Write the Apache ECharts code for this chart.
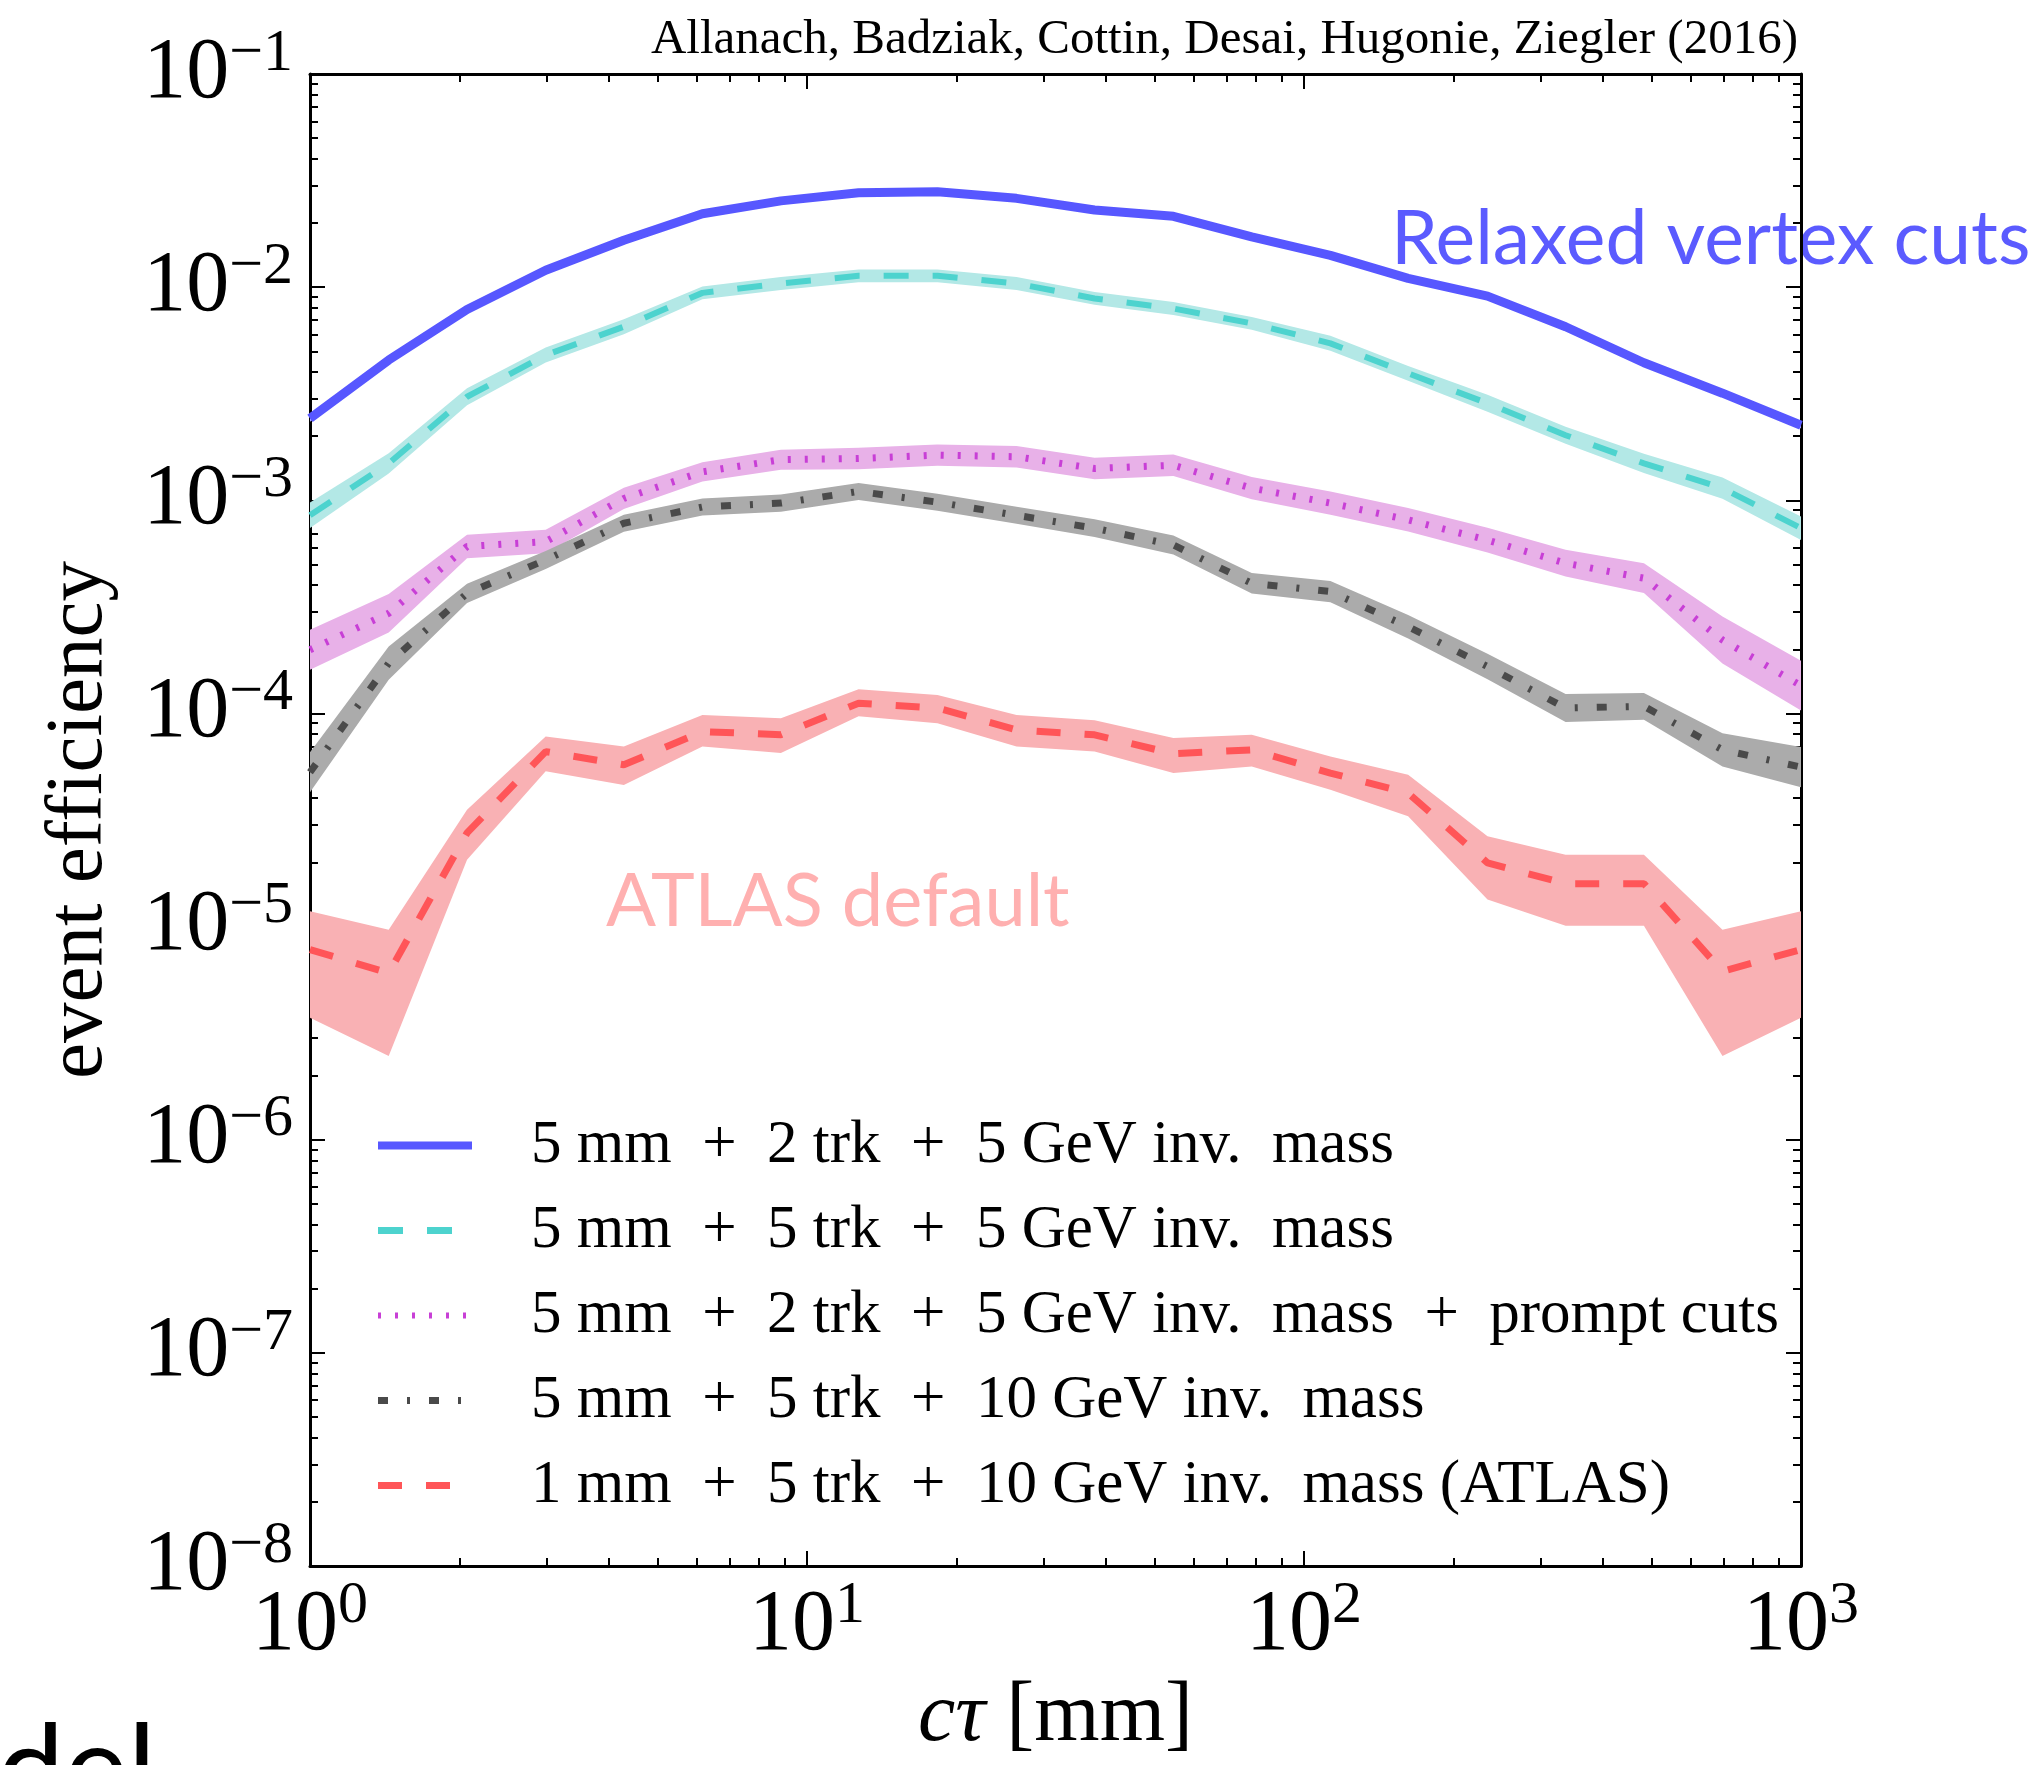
<!DOCTYPE html>
<html>
<head>
<meta charset="utf-8">
<script src="https://cdn.jsdelivr.net/npm/echarts@6/dist/echarts.min.js"></script>
<style>html,body{margin:0;padding:0;background:#fff}#c{width:2039px;height:1765px}</style>
</head>
<body>
<div id="c"></div>
<script>
// ---------------- data ----------------
const ctau = [1, 1.44, 2.07, 2.98, 4.28, 6.16, 8.86, 12.7, 18.3, 26.4, 37.9, 54.6, 78.5, 113, 162, 234, 336, 483, 695, 1000];

const eff2trk5GeV = [2.42e-3, 4.55e-3, 7.85e-3, 0.0120, 0.0166, 0.0221, 0.0254, 0.0277, 0.0280, 0.0261, 0.0230, 0.0215, 0.0172, 0.0141, 0.0110, 0.00908, 0.00652, 0.00442, 0.00318, 0.00225];
const eff5trk5GeV = [8.5e-4, 1.49e-3, 3.06e-3, 4.80e-3, 6.52e-3, 9.4e-3, 0.0104, 0.0113, 0.0113, 0.0104, 8.85e-3, 7.94e-3, 6.76e-3, 5.45e-3, 3.94e-3, 2.85e-3, 2.02e-3, 1.49e-3, 1.14e-3, 7.4e-4];
const eff2trkPrompt = [1.99e-4, 2.95e-4, 6.07e-4, 6.4e-4, 1.02e-3, 1.36e-3, 1.55e-3, 1.57e-3, 1.63e-3, 1.60e-3, 1.41e-3, 1.46e-3, 1.14e-3, 9.7e-4, 8.1e-4, 6.5e-4, 5.07e-4, 4.31e-4, 2.21e-4, 1.35e-4];
const eff5trk10GeV = [5.3e-5, 1.72e-4, 3.66e-4, 5.25e-4, 7.8e-4, 9.3e-4, 9.7e-4, 1.10e-3, 9.8e-4, 8.5e-4, 7.4e-4, 6.17e-4, 4.08e-4, 3.73e-4, 2.55e-4, 1.66e-4, 1.06e-4, 1.08e-4, 6.75e-5, 5.6e-5];
const effAtlas = [7.8e-6, 6.05e-6, 2.75e-5, 6.62e-5, 5.74e-5, 8.22e-5, 7.94e-5, 1.117e-4, 1.06e-4, 8.37e-5, 7.94e-5, 6.47e-5, 6.75e-5, 5.25e-5, 4.23e-5, 1.99e-5, 1.59e-5, 1.59e-5, 6.17e-6, 7.8e-6];
const effAtlasHi = [1.18e-5, 9.66e-6, 3.53e-5, 7.8e-5, 7.0e-5, 9.84e-5, 9.5e-5, 1.30e-4, 1.22e-4, 9.84e-5, 9.3e-5, 7.66e-5, 7.94e-5, 6.28e-5, 5.15e-5, 2.65e-5, 2.17e-5, 2.17e-5, 9.66e-6, 1.18e-5];
const effAtlasLo = [3.73e-6, 2.47e-6, 2.06e-5, 5.35e-5, 4.62e-5, 7.0e-5, 6.52e-5, 9.7e-5, 9.0e-5, 7.0e-5, 6.62e-5, 5.25e-5, 5.64e-5, 4.38e-5, 3.29e-5, 1.34e-5, 1.01e-5, 1.01e-5, 2.47e-6, 3.73e-6];

// band half-widths (in decades)
const band2trk5GeV = [0.015, 0.015, 0.015, 0.015, 0.015, 0.015, 0.015, 0.015, 0.015, 0.015, 0.015, 0.015, 0.015, 0.015, 0.015, 0.015, 0.015, 0.015, 0.015, 0.015];
const band5trk5GeV = [0.06, 0.047, 0.04, 0.035, 0.035, 0.03, 0.03, 0.03, 0.03, 0.03, 0.03, 0.03, 0.03, 0.035, 0.035, 0.04, 0.04, 0.045, 0.05, 0.055];
const band2trkPrompt = [0.094, 0.09, 0.055, 0.055, 0.05, 0.045, 0.047, 0.05, 0.05, 0.05, 0.05, 0.05, 0.052, 0.055, 0.055, 0.058, 0.063, 0.07, 0.11, 0.117];
const band5trk10GeV = [0.094, 0.078, 0.045, 0.042, 0.04, 0.04, 0.04, 0.04, 0.04, 0.04, 0.042, 0.045, 0.048, 0.05, 0.055, 0.06, 0.066, 0.063, 0.078, 0.094];

const seriesNames = [
  '5 mm + 2 trk + 5 GeV inv. mass',
  '5 mm + 5 trk + 5 GeV inv. mass',
  '5 mm + 2 trk + 5 GeV inv. mass + prompt cuts',
  '5 mm + 5 trk + 10 GeV inv. mass',
  '1 mm + 5 trk + 10 GeV inv. mass (ATLAS)'
];

const xMajorTicks = [1, 10, 100, 1000];
const yMajorTicks = [1e-8, 1e-7, 1e-6, 1e-5, 1e-4, 1e-3, 1e-2, 1e-1];

const titleText = 'Allanach, Badziak, Cottin, Desai, Hugonie, Ziegler (2016)';
const xTitle = 'cτ';
const yTitle = 'event efficiency';

// ---------------- helpers ----------------
const xMinorTicks = [];
[1, 10, 100].forEach(d => { for (let k = 2; k <= 9; k++) xMinorTicks.push(+(k * d).toPrecision(6)); });
const yMinorTicks = [];
[1e-8, 1e-7, 1e-6, 1e-5, 1e-4, 1e-3, 1e-2].forEach(d => { for (let k = 2; k <= 9; k++) yMinorTicks.push(+(k * d).toPrecision(6)); });

const SERIF = '"Liberation Serif", "DejaVu Serif", serif';
const SANS = 'Lato, "Open Sans", sans-serif';

function powLabel(v) {
  const e = Math.round(Math.log10(v));
  return '{b|10}{s|' + (e < 0 ? '\u2212' + (-e) : String(e)) + '}';
}
const labelRich = {
  b: { fontFamily: SERIF, fontSize: 86, lineHeight: 100, color: '#000' },
  s: { fontFamily: SERIF, fontSize: 60, lineHeight: 60, verticalAlign: 'top', color: '#000' }
};

function bandFrom(vals, w, sign) { return vals.map((v, i) => v * Math.pow(10, sign * w[i])); }

function bandSeries(lo, hi, color) {
  return {
    type: 'custom',
    xAxisIndex: 0, yAxisIndex: 0,
    silent: true,
    data: ctau.map((x, i) => [x, lo[i], hi[i]]),
    encode: { x: 0, y: [1, 2] },
    renderItem: function (params, api) {
      if (params.dataIndex !== 0) return null;
      const pts = [];
      for (let i = 0; i < ctau.length; i++) pts.push(api.coord([ctau[i], hi[i]]));
      for (let i = ctau.length - 1; i >= 0; i--) pts.push(api.coord([ctau[i], lo[i]]));
      return { type: 'polygon', shape: { points: pts }, style: { fill: color, stroke: null } };
    }
  };
}
function lineSeries(name, vals, color, width, type) {
  return {
    type: 'line', name: name, xAxisIndex: 0, yAxisIndex: 0,
    data: ctau.map((x, i) => [x, vals[i]]),
    symbol: 'none', showSymbol: false, silent: true,
    lineStyle: { color: color, width: width, type: type, cap: 'butt' },
    itemStyle: { color: color }
  };
}

const frame = { show: true, lineStyle: { color: '#000', width: 3 } };
function xAxisDef(pos, ticks, len, showLine, showLabel) {
  return {
    type: 'log', logBase: 10, min: 1, max: 1000, position: pos, gridIndex: 0,
    axisLine: showLine ? frame : { show: false },
    axisTick: { show: true, inside: true, length: len, customValues: ticks, lineStyle: { color: '#000', width: 2 } },
    axisLabel: showLabel ? { show: true, customValues: ticks, formatter: powLabel, rich: labelRich, margin: 10 } : { show: false },
    splitLine: { show: false }, minorTick: { show: false },
    name: showLabel ? '{i|' + xTitle + '} [mm]' : '',
    nameLocation: 'middle', nameGap: 110,
    nameTextStyle: { fontFamily: SERIF, fontSize: 84, color: '#000',
      rich: { i: { fontFamily: SERIF, fontStyle: 'italic', fontSize: 84, color: '#000' } } }
  };
}
function yAxisDef(pos, ticks, len, showLine, showLabel) {
  return {
    type: 'log', logBase: 10, min: 1e-8, max: 1e-1, position: pos, gridIndex: 0,
    axisLine: showLine ? frame : { show: false },
    axisTick: { show: true, inside: true, length: len, customValues: ticks, lineStyle: { color: '#000', width: 2 } },
    axisLabel: showLabel ? { show: true, customValues: ticks, formatter: powLabel, rich: labelRich, margin: 17 } : { show: false },
    splitLine: { show: false }, minorTick: { show: false },
    name: showLabel ? yTitle : '',
    nameLocation: 'middle', nameGap: 190, nameRotate: 90,
    nameTextStyle: { fontFamily: SERIF, fontSize: 81, color: '#000' }
  };
}

const legendWidths = [8, 7, 6, 7, 7];

const chart = echarts.init(document.getElementById('c'), null, { renderer: 'canvas' });
chart.setOption({
  backgroundColor: '#ffffff',
  animation: false,
  grid: { left: 310, right: 238, top: 74, bottom: 199, containLabel: false },
  xAxis: [
    xAxisDef('bottom', xMajorTicks, 15, true, true),
    xAxisDef('bottom', xMinorTicks, 8, false, false),
    xAxisDef('top', xMajorTicks, 15, true, false),
    xAxisDef('top', xMinorTicks, 8, false, false)
  ],
  yAxis: [
    yAxisDef('left', yMajorTicks, 15, true, true),
    yAxisDef('left', yMinorTicks, 8, false, false),
    yAxisDef('right', yMajorTicks, 15, true, false),
    yAxisDef('right', yMinorTicks, 8, false, false)
  ],
  legend: {
    data: seriesNames.map((n, i) => ({ name: n, lineStyle: { width: legendWidths[i] } })),
    orient: 'vertical', left: 369, top: 1110,
    itemWidth: 94, itemHeight: 12, itemGap: 24,
    selectedMode: false,
    itemStyle: { opacity: 0 },
    formatter: n => n.replace(/ \+ /g, '  +  ').replace('inv. ', 'inv.  '),
    textStyle: { fontFamily: SERIF, fontSize: 61, color: '#000', lineHeight: 60, padding: [0, 0, 0, 54] }
  },
  series: [
    bandSeries(bandFrom(eff2trk5GeV, band2trk5GeV, -1), bandFrom(eff2trk5GeV, band2trk5GeV, 1), '#a9a9ff'),
    lineSeries(seriesNames[0], eff2trk5GeV, '#5757ff', 9, 'solid'),
    bandSeries(bandFrom(eff5trk5GeV, band5trk5GeV, -1), bandFrom(eff5trk5GeV, band5trk5GeV, 1), '#b3e8e6'),
    lineSeries(seriesNames[1], eff5trk5GeV, '#4dd3ce', 6, [25, 24]),
    bandSeries(bandFrom(eff2trkPrompt, band2trkPrompt, -1), bandFrom(eff2trkPrompt, band2trkPrompt, 1), '#e8b1e8'),
    lineSeries(seriesNames[2], eff2trkPrompt, '#c83fd6', 7, [3, 14]),
    bandSeries(bandFrom(eff5trk10GeV, band5trk10GeV, -1), bandFrom(eff5trk10GeV, band5trk10GeV, 1), '#ababab'),
    lineSeries(seriesNames[3], eff5trk10GeV, '#4a4a4a', 7, [10, 19, 3, 19]),
    bandSeries(effAtlasLo, effAtlasHi, '#f9b1b4'),
    lineSeries(seriesNames[4], effAtlas, '#ff5558', 7, [24, 24])
  ],
  graphic: [
    { type: 'text', x: 1798, y: 40, z: 10,
      style: { text: titleText, font: '49px ' + SERIF, fill: '#000', textAlign: 'right', textVerticalAlign: 'middle' } },
    { type: 'text', x: 1391, y: 240, z: -1,
      style: { text: 'Relaxed vertex cuts', font: '75px ' + SANS, fill: '#5b5bff', textAlign: 'left', textVerticalAlign: 'middle' } },
    { type: 'text', x: 606, y: 902, z: -1,
      style: { text: 'ATLAS default', font: '74px ' + SANS, fill: '#ffb0b0', textAlign: 'left', textVerticalAlign: 'middle' } },
    { type: 'text', x: 156, y: 1771, z: 10,
      style: { text: 'del', font: '120px ' + SANS, fill: '#000', textAlign: 'right', textVerticalAlign: 'middle' } }
  ]
});
</script>
</body>
</html>
